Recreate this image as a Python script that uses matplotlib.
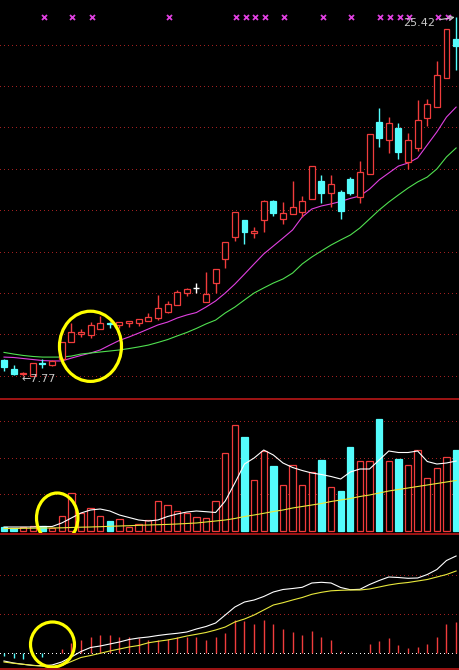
import matplotlib
matplotlib.use("Agg")
import matplotlib.pyplot as plt
import numpy as np
from matplotlib.patches import Ellipse, Rectangle
from matplotlib.lines import Line2D
from matplotlib.transforms import blended_transform_factory

# ---------------- data ----------------
opens = [8.56, 8.11, 7.87, 7.78, 8.41, 8.30, 8.61, 9.44, 9.83, 9.79,
         10.08, 10.38, 10.30, 10.36, 10.38, 10.47, 10.62, 10.92, 11.26, 11.85,
         12.10, 11.41, 12.34, 13.52, 14.60, 15.44, 14.80, 15.44, 16.37, 15.49,
         15.73, 15.83, 16.47, 17.36, 16.77, 16.82, 17.45, 16.57, 17.70, 20.26,
         19.37, 19.96, 18.29, 18.98, 20.45, 20.99, 22.42, 24.34]
highs = [8.61, 8.31, 7.97, 8.41, 8.61, 8.56, 9.44, 10.38, 10.08, 10.42,
         10.72, 10.42, 10.42, 10.47, 10.57, 10.87, 11.75, 11.46, 12.00, 12.10,
         12.34, 12.88, 13.03, 14.36, 15.83, 15.44, 15.09, 16.42, 16.42, 16.32,
         17.36, 16.62, 18.09, 17.65, 17.65, 16.91, 17.55, 18.34, 19.67, 20.95,
         20.50, 20.21, 19.72, 21.34, 21.39, 23.26, 24.83, 25.42]
lows = [8.02, 7.84, 7.77, 7.78, 8.16, 8.26, 8.56, 9.44, 9.69, 9.64,
        10.08, 10.13, 10.13, 10.18, 10.23, 10.47, 10.52, 10.87, 11.26, 11.70,
        11.85, 11.41, 11.85, 13.08, 14.41, 14.26, 14.55, 14.85, 15.64, 15.24,
        15.73, 15.59, 16.47, 16.28, 16.08, 15.49, 16.67, 16.28, 17.70, 19.03,
        18.73, 18.44, 17.95, 18.83, 20.06, 20.99, 22.42, 22.81]
closes = [8.21, 7.87, 7.94, 8.41, 8.35, 8.52, 9.44, 9.93, 9.93, 10.28,
          10.38, 10.33, 10.42, 10.47, 10.57, 10.69, 11.11, 11.31, 11.90, 12.05,
          12.10, 11.80, 13.03, 14.36, 15.83, 14.85, 14.90, 16.37, 15.78, 15.78,
          16.08, 16.37, 18.09, 16.77, 17.21, 15.88, 16.77, 17.80, 19.67, 19.47,
          20.21, 18.78, 19.37, 20.36, 21.14, 22.57, 24.83, 23.99]

ma_short = [8.70, 8.68, 8.63, 8.58, 8.53, 8.51, 8.51, 8.65, 8.78, 8.90,
            9.05, 9.29, 9.52, 9.69, 9.88, 10.08, 10.28, 10.42, 10.62, 10.77,
            10.89, 11.16, 11.46, 11.85, 12.29, 12.78, 13.28, 13.77, 14.16, 14.55,
            14.95, 15.59, 15.98, 16.13, 16.23, 16.35, 16.50, 16.62, 16.96, 17.41,
            17.75, 18.09, 18.24, 18.49, 19.13, 19.77, 20.50, 20.99]
ma_long = [8.93, 8.85, 8.78, 8.73, 8.70, 8.70, 8.70, 8.75, 8.85, 8.90,
           8.95, 9.00, 9.05, 9.12, 9.20, 9.29, 9.42, 9.56, 9.74, 9.91,
           10.11, 10.33, 10.52, 10.87, 11.16, 11.51, 11.85, 12.10, 12.34, 12.54,
           12.83, 13.28, 13.62, 13.92, 14.21, 14.46, 14.70, 15.05, 15.49, 15.93,
           16.32, 16.67, 17.01, 17.31, 17.55, 17.95, 18.54, 18.98]

volume = [4.3, 3.3, 4.3, 5.0, 5.0, 3.3, 15.0, 38.0, 18.3, 23.0,
          15.0, 10.0, 12.0, 4.3, 6.7, 11.0, 30.0, 26.0, 20.0, 17.7,
          14.3, 12.7, 30.0, 78.3, 106.0, 94.3, 51.0, 80.3, 65.3, 46.0,
          66.0, 46.0, 59.3, 71.0, 43.7, 40.3, 84.3, 70.0, 70.0, 112.0,
          70.0, 72.0, 66.0, 81.0, 53.0, 62.7, 73.7, 81.0]
vol_ma5 = [4.0, 4.0, 4.0, 4.0, 4.5, 4.5, 8.0, 13.0, 18.0, 21.0,
           22.0, 20.0, 16.0, 13.5, 11.0, 10.0, 11.0, 14.5, 17.0, 19.0,
           20.0, 19.3, 18.5, 30.0, 48.0, 67.0, 73.0, 81.0, 76.0, 68.0,
           63.5, 60.5, 58.0, 56.5, 54.5, 52.0, 59.0, 62.0, 62.0, 71.0,
           80.0, 78.5, 78.5, 80.0, 69.5, 67.0, 68.0, 70.0]
vol_ma_long = [2.5, 2.5, 2.7, 2.8, 3.0, 3.0, 3.2, 3.5, 3.8, 4.0,
               4.3, 4.7, 5.0, 5.3, 5.7, 6.0, 6.3, 6.6, 7.0, 7.5,
               8.0, 9.0, 10.0, 11.0, 12.5, 14.5, 16.0, 17.7, 19.5, 21.0,
               23.0, 24.5, 26.0, 27.5, 29.5, 31.0, 32.5, 34.5, 36.0, 38.0,
               40.0, 41.5, 43.0, 44.5, 46.0, 47.5, 49.0, 50.5]

dif = [-7.7, -9.7, -11.0, -12.2, -12.4, -11.7, -8.7, -3.7, 1.8, 5.8,
       7.3, 9.3, 11.3, 13.8, 15.3, 16.3, 17.8, 19.0, 20.0, 21.3,
       24.3, 26.8, 30.3, 38.3, 46.3, 51.3, 53.3, 56.8, 61.3, 63.8,
       64.8, 66.0, 70.3, 71.0, 70.3, 65.8, 63.6, 64.0, 68.8, 72.8,
       76.3, 75.8, 75.0, 75.3, 78.8, 83.8, 92.8, 97.3]
dea = [-8.7, -10.0, -11.0, -12.0, -12.9, -13.4, -12.2, -8.2, -4.2, -2.2,
       0.0, 2.3, 4.3, 6.3, 7.8, 10.5, 12.0, 13.3, 15.1, 17.3,
       19.0, 20.8, 23.3, 26.3, 31.3, 34.3, 38.3, 43.3, 48.3, 50.6,
       53.3, 55.8, 59.0, 61.0, 62.5, 63.0, 63.3, 63.3, 64.3, 66.3,
       68.3, 69.8, 70.8, 72.3, 73.8, 76.3, 78.8, 82.3]
macd_hist = [-2.7, -4.7, -5.7, -0.5, -3.3, 0.0, 4.6, 10.6, 13.3, 16.0,
             18.3, 18.3, 16.6, 16.0, 15.0, 13.3, 13.3, 14.0, 16.0, 16.6,
             16.6, 13.3, 16.6, 20.0, 33.3, 32.3, 29.3, 33.3, 29.3, 24.3,
             21.0, 18.3, 22.3, 16.0, 13.3, 2.3, 0.0, 0.0, 9.3, 12.6,
             15.6, 8.3, 5.6, 6.6, 9.3, 16.6, 29.3, 31.6]

signal_idx = [4, 7, 9, 17, 24, 25, 26, 27, 29, 33, 36, 39, 40, 41, 42, 45, 46]

# ---------------- style ----------------
RED = '#f03c3c'
CYAN = '#54fcfc'
MAG = '#e040e0'
GRN = '#50e050'
YEL = '#e8e83c'
GRID = '#a02020'
SEP = '#a01414'
TXT = '#c8c8c8'

W, H = 459, 670
fig = plt.figure(figsize=(W / 100, H / 100), dpi=100, facecolor='black')


def px_axes(top, bottom):
    return fig.add_axes([0, (H - bottom) / H, 1, (bottom - top) / H])


ax_p = px_axes(0, 398)
ax_v = px_axes(398, 533)
ax_m = px_axes(533, 670)

n = len(closes)
x = np.arange(n)
for ax in (ax_p, ax_v, ax_m):
    ax.set_facecolor('black')
    ax.set_xlim(-0.416, 47.3)
    ax.set_xticks([])
    ax.set_yticks([])
    for s in ax.spines.values():
        s.set_visible(False)

ax_p.set_ylim(6.689, 26.254)
ax_v.set_ylim(-2, 133)
ax_m.set_ylim(-16.7, 120.3)

dots = (0, (1, 3))
gkw = dict(lw=0.72, ls=dots, zorder=0, antialiased=False)
for g in 7.78 + 2.035 * np.arange(9):
    ax_p.axhline(g, color=GRID, **gkw)
for g in 36.6 * np.arange(1, 4):
    ax_v.axhline(g, color=GRID, **gkw)
for g in 39.2 * np.arange(1, 3):
    ax_m.axhline(g, color=GRID, **gkw)
ax_m.axhline(0, color='white', **gkw)

# ---------------- price panel ----------------
ax_p.plot(x, ma_short, color=MAG, lw=0.8, zorder=1)
ax_p.plot(x, ma_long, color=GRN, lw=0.8, zorder=1)

bw = 0.62
for i in range(n):
    o, h, l, c = opens[i], highs[i], lows[i], closes[i]
    if c > o:
        col, face = RED, 'black'
    elif c < o:
        col, face = CYAN, CYAN
    else:
        col, face = 'white', 'white'
    ax_p.vlines(i, l, h, color=col, lw=1.0, zorder=2)
    if c == o:
        ax_p.hlines(o, i - bw / 2, i + bw / 2, color=col, lw=1.0, zorder=3)
    else:
        ax_p.add_patch(Rectangle((i - bw / 2, min(o, c)), bw, abs(c - o),
                                 facecolor=face, edgecolor=col, lw=0.9, zorder=3))

trans = blended_transform_factory(ax_p.transData, ax_p.transAxes)
ax_p.plot(np.array(signal_idx) + 0.12, [0.958] * len(signal_idx), ls='none',
          marker='x', ms=3.6, mew=1.3, color=MAG, transform=trans, zorder=5)

imax = int(np.argmax(highs))
imin = int(np.argmin(lows))
ax_p.annotate(f"{highs[imax]:.2f}", xy=(imax, highs[imax]), xytext=(41.5, 25.12),
              color=TXT, fontsize=8, va='center', ha='left',
              arrowprops=dict(arrowstyle='->', color=TXT, lw=0.8,
                              shrinkA=1, shrinkB=1), zorder=6)
ax_p.text(imin - 0.13, lows[imin] - 0.15, f"\u2190{lows[imin]:.2f}", color=TXT,
          fontsize=8, va='center', ha='left', zorder=6)

ax_p.add_patch(Ellipse((8.99, 9.23), 6.45, 3.45, fill=False, ec='#ffff00',
                       lw=2.3, zorder=7, clip_on=False))

# ---------------- volume panel ----------------
vcols = [CYAN if closes[i] < opens[i] else RED for i in range(n)]
vface = [CYAN if closes[i] < opens[i] else 'black' for i in range(n)]
ax_v.bar(x, volume, width=0.66, bottom=0, color=vface, edgecolor=vcols,
         lw=0.9, zorder=2)
ax_v.plot(x, vol_ma5, color='white', lw=0.8, zorder=3)
ax_v.plot(x, vol_ma_long, color=YEL, lw=0.8, zorder=3)
ax_v.add_patch(Ellipse((5.53, 13.0), 4.3, 50, fill=False, ec='#ffff00',
                       lw=2.3, zorder=7, clip_on=False))

# ---------------- MACD panel ----------------
hcols = [RED if v > 0 else CYAN for v in macd_hist]
ax_m.vlines(x, 0, macd_hist, colors=hcols, lw=1.0, zorder=2)
ax_m.plot(x, dif, color='white', lw=0.8, zorder=3)
ax_m.plot(x, dea, color=YEL, lw=0.8, zorder=3)
ax_m.add_patch(Ellipse((5.04, 8.8), 4.57, 45, fill=False, ec='#ffff00',
                       lw=2.3, zorder=7, clip_on=False))

# separators
for yp in (398.5, 533.5, 668.5):
    fig.add_artist(Line2D([0, 1], [(H - yp) / H] * 2, color=SEP, lw=1.4,
                          transform=fig.transFigure))

fig.savefig('out.png', dpi=100, facecolor='black')
